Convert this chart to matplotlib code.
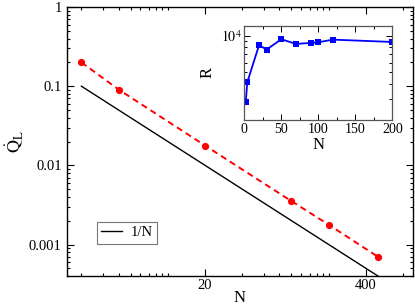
import matplotlib
matplotlib.use("Agg")
import matplotlib.pyplot as plt
from matplotlib.ticker import FixedLocator, FixedFormatter, NullFormatter, LogLocator, MultipleLocator
import numpy as np

plt.rcParams['font.family'] = ['Liberation Serif', 'DejaVu Serif']
plt.rcParams['mathtext.fontset'] = 'stix'

# main data
N_main = [2, 4, 20, 100, 200, 500]
Q_L = [0.2, 0.0908, 0.0178, 0.00353, 0.00178, 0.0007]
ref_line = [0.2 / n for n in N_main]  # 1/N scaling line

# inset data
N_inset = [2, 4, 20, 30, 50, 70, 90, 100, 120, 200]
R_vals = [2860, 4130, 8380, 7670, 9340, 8550, 8710, 8830, 9270, 8870]

x_major = [20, 400]
x_major_labels = ["20", "400"]
x_minor = [2, 3, 4, 5, 6, 7, 8, 9, 10, 40, 60, 80, 100, 120, 140, 160, 180, 200, 800]
y_major = [1, 0.1, 0.01, 0.001]
y_major_labels = ["1", "0.1", "0.01", "0.001"]

fig = plt.figure(figsize=(4.15, 3.08), dpi=100)
ax = fig.add_axes([0.1607, 0.1039, 0.8343, 0.8731])

ax.plot(N_main, ref_line, color='black', lw=1.0, label='1/N', zorder=2)
ax.plot(N_main, Q_L, color='red', lw=1.4, ls=(0, (3.2, 2.2)), marker='o', ms=5.2,
        markeredgewidth=0, zorder=3)

ax.set_xscale('log')
ax.set_yscale('log')
ax.set_xlim(1.52, 960)
ax.set_ylim(0.0004, 1)

ax.xaxis.set_major_locator(FixedLocator(x_major))
ax.xaxis.set_major_formatter(FixedFormatter(x_major_labels))
ax.xaxis.set_minor_locator(FixedLocator(x_minor))
ax.xaxis.set_minor_formatter(NullFormatter())
ax.yaxis.set_major_locator(FixedLocator(y_major))
ax.yaxis.set_major_formatter(FixedFormatter(y_major_labels))
ax.yaxis.set_minor_locator(LogLocator(base=10, subs=np.arange(2, 10)))
ax.yaxis.set_minor_formatter(NullFormatter())

ax.tick_params(which='both', direction='in', top=True, right=True, labelsize=10.5, width=0.8)
ax.tick_params(which='major', length=5)
ax.tick_params(which='minor', length=2.5)
ax.tick_params(axis='x', pad=2.5)
for s in ax.spines.values():
    s.set_linewidth(1.0)

ax.set_xlabel('N', fontsize=12, labelpad=-2)
ax.set_ylabel(r'$\dot{\mathrm{Q}}_{\mathrm{L}}$', fontsize=13, labelpad=2)

leg = ax.legend(loc='lower left', bbox_to_anchor=(0.087, 0.12), fontsize=10.5,
                frameon=True, fancybox=False, handlelength=1.4, handletextpad=0.6,
                borderpad=0.3, borderaxespad=0)
leg.get_frame().set_edgecolor('#555555')
leg.get_frame().set_linewidth(0.8)

# inset
ins = fig.add_axes([0.5887, 0.6104, 0.3566, 0.3062])
ins.set_facecolor('white')
ins.plot(N_inset, R_vals, color='#0000ff', lw=1.3, marker='s', ms=4, markeredgewidth=0)
ins.set_yscale('log')
ins.set_xlim(0, 200)
ins.set_ylim(2020, 12080)
ins.xaxis.set_major_locator(MultipleLocator(50))
ins.xaxis.set_minor_locator(MultipleLocator(25))
ins.yaxis.set_major_locator(FixedLocator([10000]))
ins.yaxis.set_major_formatter(FixedFormatter([r'$10^4$']))
ins.yaxis.set_minor_locator(LogLocator(base=10, subs=np.arange(2, 10)))
ins.yaxis.set_minor_formatter(NullFormatter())
ins.tick_params(which='both', direction='in', top=True, right=True, labelsize=10, width=0.7,
                pad=2)
ins.tick_params(which='major', length=4)
ins.tick_params(which='minor', length=2)
for s in ins.spines.values():
    s.set_linewidth(0.9)
    s.set_color('#555555')
ins.set_xlabel('N', fontsize=12, labelpad=1)
ins.set_ylabel('R', fontsize=12, labelpad=4)

fig.savefig('out.png', dpi=100)
